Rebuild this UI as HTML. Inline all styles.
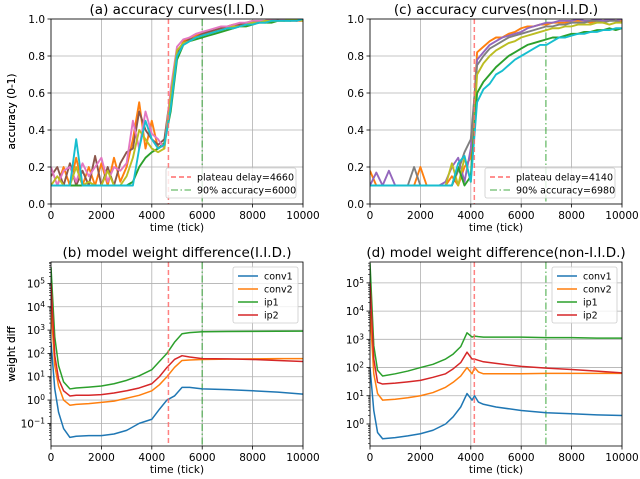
<!DOCTYPE html>
<html><head><meta charset="utf-8"><style>
html,body{margin:0;padding:0;background:#fff;}
svg{display:block;font-family:"DejaVu Sans","Liberation Sans",sans-serif;}
</style></head><body>
<svg id="fig" width="640" height="479" viewBox="0 0 640 479" xmlns="http://www.w3.org/2000/svg"></svg>
<script>
// ---------- data ----------
const accTicks = [0,250,500,750,1000,1250,1500,1750,2000,2250,2500,2750,3000,3250,3500,3750,4000,4250,4500,4750,5000,5250,5500,5750,6000,6250,6500,6750,7000,7250,7500,7750,8000,8250,8500,8750,9000,9250,9500,9750,10000];
const accIID_1 = [0.1,0.1,0.2,0.1,0.25,0.1,0.2,0.1,0.22,0.1,0.25,0.12,0.2,0.35,0.55,0.3,0.45,0.3,0.33,0.55,0.8,0.88,0.9,0.91,0.92,0.93,0.94,0.95,0.96,0.97,0.97,0.98,0.99,0.98,0.99,0.99,0.99,1.0,0.99,0.99,0.99];
const accIID_2 = [0.15,0.2,0.1,0.22,0.1,0.18,0.1,0.26,0.1,0.2,0.1,0.22,0.28,0.3,0.5,0.4,0.35,0.32,0.35,0.6,0.82,0.87,0.89,0.9,0.92,0.93,0.94,0.95,0.95,0.96,0.97,0.98,0.98,0.99,0.98,0.99,1.0,0.99,1.0,0.99,1.0];
const accIID_3 = [0.1,0.1,0.1,0.1,0.1,0.1,0.1,0.1,0.1,0.1,0.1,0.1,0.1,0.12,0.2,0.25,0.28,0.3,0.33,0.5,0.78,0.86,0.88,0.89,0.9,0.91,0.92,0.93,0.94,0.95,0.96,0.96,0.97,0.98,0.98,0.98,0.99,0.99,0.99,1.0,0.99];
const accIID_4 = [0.2,0.1,0.18,0.2,0.12,0.22,0.15,0.2,0.25,0.12,0.2,0.18,0.22,0.45,0.3,0.5,0.38,0.35,0.3,0.62,0.85,0.89,0.9,0.92,0.93,0.94,0.95,0.96,0.96,0.97,0.98,0.98,0.99,0.99,0.99,1.0,0.99,1.0,1.0,0.99,1.0];
const accIID_5 = [0.1,0.15,0.1,0.1,0.2,0.1,0.12,0.1,0.1,0.18,0.1,0.1,0.15,0.25,0.4,0.35,0.3,0.28,0.3,0.58,0.83,0.87,0.88,0.9,0.91,0.92,0.93,0.94,0.95,0.96,0.96,0.97,0.98,0.98,0.99,0.99,0.99,0.99,1.0,1.0,0.99];
const accIID_6 = [0.1,0.1,0.1,0.1,0.35,0.1,0.1,0.1,0.1,0.1,0.1,0.1,0.1,0.1,0.3,0.45,0.35,0.3,0.32,0.52,0.8,0.86,0.88,0.9,0.91,0.92,0.93,0.94,0.95,0.95,0.96,0.97,0.97,0.98,0.98,0.99,0.99,0.99,0.99,0.99,1.0];
const accNon_1 = [0.18,0.1,0.1,0.1,0.1,0.1,0.1,0.1,0.2,0.1,0.1,0.1,0.1,0.15,0.1,0.2,0.25,0.82,0.85,0.88,0.9,0.9,0.92,0.93,0.95,0.96,0.96,0.97,0.97,0.98,0.98,0.98,0.99,0.99,0.99,0.98,0.99,0.99,1.0,0.99,0.99];
const accNon_2 = [0.1,0.17,0.1,0.18,0.1,0.1,0.1,0.1,0.1,0.1,0.1,0.1,0.12,0.2,0.25,0.12,0.3,0.78,0.82,0.86,0.88,0.9,0.91,0.92,0.93,0.95,0.96,0.97,0.98,0.98,0.99,0.99,0.99,1.0,0.99,0.99,1.0,0.99,1.0,0.99,1.0];
const accNon_3 = [0.1,0.1,0.1,0.1,0.1,0.1,0.1,0.2,0.1,0.1,0.1,0.1,0.1,0.1,0.18,0.28,0.35,0.75,0.8,0.84,0.86,0.88,0.9,0.91,0.92,0.93,0.94,0.95,0.96,0.96,0.97,0.97,0.98,0.98,0.98,0.99,0.99,0.98,0.99,0.99,0.98];
const accNon_4 = [0.1,0.1,0.1,0.1,0.1,0.1,0.1,0.1,0.1,0.1,0.1,0.1,0.1,0.22,0.1,0.25,0.12,0.7,0.76,0.8,0.83,0.85,0.87,0.88,0.9,0.91,0.92,0.93,0.94,0.95,0.95,0.96,0.96,0.97,0.97,0.97,0.98,0.98,0.97,0.98,0.98];
const accNon_5 = [0.1,0.1,0.1,0.1,0.1,0.1,0.1,0.1,0.1,0.1,0.1,0.1,0.1,0.1,0.2,0.1,0.15,0.6,0.66,0.7,0.74,0.77,0.8,0.82,0.84,0.86,0.87,0.88,0.89,0.9,0.9,0.91,0.92,0.92,0.93,0.93,0.94,0.94,0.95,0.94,0.95];
const accNon_6 = [0.1,0.1,0.1,0.1,0.1,0.1,0.1,0.1,0.1,0.1,0.1,0.1,0.1,0.1,0.22,0.26,0.12,0.55,0.62,0.65,0.7,0.72,0.75,0.78,0.8,0.82,0.84,0.86,0.86,0.88,0.9,0.9,0.91,0.92,0.92,0.93,0.93,0.94,0.94,0.95,0.95];
const accIID = [accIID_1,accIID_2,accIID_3,accIID_4,accIID_5,accIID_6];
const accNon = [accNon_1,accNon_2,accNon_3,accNon_4,accNon_5,accNon_6];
const accIIDColors = ["#ff7f0e","#8c564b","#2ca02c","#e377c2","#bcbd22","#17becf"];
const accNonColors = ["#ff7f0e","#9467bd","#7f7f7f","#bcbd22","#2ca02c","#17becf"];

const layerNames = ["conv1","conv2","ip1","ip2"];
const layerColors = ["#1f77b4","#ff7f0e","#2ca02c","#d62728"];
const wIIDTicks = [0,150,300,500,750,1000,1500,2000,2500,3000,3500,4000,4300,4600,4900,5200,5500,6000,7000,8000,9000,10000];
const wIID_conv1 = [300,3,0.3,0.06,0.025,0.028,0.03,0.03,0.035,0.05,0.1,0.15,0.4,1,1.5,3.5,3.5,3,2.8,2.5,2.2,1.8];
const wIID_conv2 = [1e4,30,4,1,0.6,0.65,0.7,0.8,0.9,1.2,1.6,2.5,4.5,10,25,50,52,55,57,58,60,60];
const wIID_ip1 = [5e5,500,30,6,3,3.3,3.6,4,5,7,11,20,45,100,300,700,780,850,870,880,890,900];
const wIID_ip2 = [1e5,80,8,2.5,1.5,1.6,1.6,1.7,2,2.5,3.3,5,10,25,55,80,70,60,58,55,50,45];
const wNonTicks = [0,150,300,500,1000,1500,2000,2500,3000,3300,3600,3850,4050,4150,4300,4500,5000,6000,7000,8000,9000,10000];
const wNon_conv1 = [100,3,0.5,0.3,0.33,0.38,0.45,0.6,1,1.8,4,12,7,10,6,5,4,3,2.5,2.3,2.1,2];
const wNon_conv2 = [1e4,60,12,7,7.5,8.5,10,13,20,30,50,100,60,100,70,60,60,60,62,62,62,62];
const wNon_ip1 = [5e5,600,80,50,60,75,100,130,200,300,550,1700,1200,1300,1250,1200,1200,1200,1150,1150,1100,1100];
const wNon_ip2 = [1e5,200,30,26,28,31,35,45,60,90,150,350,200,200,180,160,140,110,95,85,75,65];
const wIID = [wIID_conv1,wIID_conv2,wIID_ip1,wIID_ip2];
const wNon = [wNon_conv1,wNon_conv2,wNon_ip1,wNon_ip2];

const xTickVals = [0,2000,4000,6000,8000,10000];
const accYTicks = [0,0.2,0.4,0.6,0.8,1.0];

// ---------- drawing ----------
const NS="http://www.w3.org/2000/svg";
const svg=document.getElementById('fig');
function el(tag,attrs,parent){const e=document.createElementNS(NS,tag);for(const k in attrs)e.setAttribute(k,attrs[k]);(parent||svg).appendChild(e);return e;}
function txt(s,attrs,parent){const t=el('text',attrs,parent);t.textContent=s;return t;}

function panel(cfg){
  const g=el('g',{});
  
  
  const X=v=>cfg.x0+(v/10000)*(cfg.x1-cfg.x0);
  const Y=cfg.log?(v=>cfg.y1-(Math.log10(v)-cfg.lo)/(cfg.hi-cfg.lo)*(cfg.y1-cfg.y0)):(v=>cfg.y1-v*(cfg.y1-cfg.y0));
  const clipId='clip'+cfg.id;
  const cp=el('clipPath',{id:clipId},g);
  el('rect',{x:cfg.x0,y:cfg.y0,width:cfg.x1-cfg.x0,height:cfg.y1-cfg.y0},cp);
  xTickVals.forEach(v=>{const l=el('line',{x1:X(v),x2:X(v),y1:cfg.y0,y2:cfg.y1,stroke:'#b0b0b0','stroke-width':0.8},g);
    });
  const yt=cfg.log?cfg.decades:accYTicks;
  yt.forEach(v=>{const yy=cfg.log?Y(Math.pow(10,v)):Y(v);const l=el('line',{x1:cfg.x0,x2:cfg.x1,y1:yy,y2:yy,stroke:'#b0b0b0','stroke-width':0.8},g);
    });
  const plot=el('g',{'clip-path':'url(#'+clipId+')'},g);
  const gl=el('line',{x1:X(cfg.acc90),x2:X(cfg.acc90),y1:cfg.y0,y2:cfg.y1,stroke:'#2ca02c','stroke-opacity':0.7,'stroke-width':1.3,'stroke-dasharray':'7,2.5,1.5,2.5'},plot);
  
  cfg.series.forEach((s,i)=>{
    const d=s.map((v,j)=>(j?'L':'M')+X(cfg.ticks[j]).toFixed(2)+','+Y(v).toFixed(2)).join('');
    const p=el('path',{d:d,fill:'none',stroke:cfg.colors[i],'stroke-width':cfg.log?1.5:1.9,'stroke-linejoin':'round'},plot);
    
    
  });
  const rl=el('line',{x1:X(cfg.plateau),x2:X(cfg.plateau),y1:cfg.y0,y2:cfg.y1,stroke:'#ff6b6b','stroke-opacity':0.85,'stroke-width':1.5,'stroke-dasharray':'5,3'},plot);
  
  const fr=el('rect',{x:cfg.x0,y:cfg.y0,width:cfg.x1-cfg.x0,height:cfg.y1-cfg.y0,fill:'none',stroke:'#000','stroke-width':0.8},g);
  
  xTickVals.forEach(v=>{el('line',{x1:X(v),x2:X(v),y1:cfg.y1,y2:cfg.y1+3.5,stroke:'#000','stroke-width':0.8},g);
    const t=txt(String(v),{x:X(v),y:cfg.y1+15,'font-size':10.5,'text-anchor':'middle',fill:'#000'},g);
    });
  const xl=txt('time (tick)',{x:(cfg.x0+cfg.x1)/2,y:cfg.y1+27,'font-size':10.5,'text-anchor':'middle'},g);
  
  if(!cfg.log){
    accYTicks.forEach(v=>{el('line',{x1:cfg.x0-3.5,x2:cfg.x0,y1:Y(v),y2:Y(v),stroke:'#000','stroke-width':0.8},g);
      const t=txt(v.toFixed(1),{x:cfg.x0-6,y:Y(v)+4,'font-size':10.5,'text-anchor':'end'},g);
      });
  } else {
    for(let d=Math.floor(cfg.lo);d<=Math.ceil(cfg.hi);d++){
      for(let m=1;m<10;m++){const v=m*Math.pow(10,d);const lv=Math.log10(v);if(lv<cfg.lo||lv>cfg.hi)continue;
        el('line',{x1:cfg.x0-(m===1?3.5:2),x2:cfg.x0,y1:Y(v),y2:Y(v),stroke:'#000','stroke-width':m===1?0.8:0.6},g);}
    }
    cfg.decades.forEach(d=>{const yy=Y(Math.pow(10,d));
      const t=el('text',{x:cfg.x0-6,y:yy+4,'font-size':10.5,'text-anchor':'end'},g);
      
      const a=document.createElementNS(NS,'tspan');a.textContent='10';t.appendChild(a);
      const b=document.createElementNS(NS,'tspan');b.setAttribute('dy','-4');b.setAttribute('font-size','7.5');b.textContent=d<0?'\u2212'+(-d):String(d);t.appendChild(b);
    });
  }
  const yl=txt(cfg.ylabel,{x:0,y:0,'font-size':10.5,'text-anchor':'middle',transform:'translate(15,'+((cfg.y0+cfg.y1)/2)+') rotate(-90)'},g);
  
  const tt=txt(cfg.title,{x:(cfg.x0+cfg.x1)/2,y:cfg.y0-5,'font-size':13.5,'text-anchor':'middle'},g);
  
  const lg=el('g',{},g);
  
  if(!cfg.log){
    const lx=cfg.x1-137,ly=cfg.y1-36;
    el('rect',{x:lx,y:ly,width:130,height:30,rx:2,fill:'#fff','fill-opacity':0.8,stroke:'#ccc','stroke-width':0.8},lg);
    el('line',{x1:lx+5,x2:lx+25,y1:ly+9,y2:ly+9,stroke:'#ff6b6b','stroke-width':1.5,'stroke-dasharray':'5,3'},lg);
    const a=txt('plateau delay='+cfg.plateau,{x:lx+31,y:ly+12.5,'font-size':9.5},lg);
    
    el('line',{x1:lx+5,x2:lx+25,y1:ly+22,y2:ly+22,stroke:'#2ca02c','stroke-opacity':0.7,'stroke-width':1.3,'stroke-dasharray':'7,2.5,1.5,2.5'},lg);
    const b=txt('90% accuracy='+cfg.acc90,{x:lx+31,y:ly+25.5,'font-size':9.5},lg);
    
  } else {
    const lx=cfg.x1-70,ly=cfg.y0+5;
    el('rect',{x:lx,y:ly,width:65,height:56,rx:2,fill:'#fff','fill-opacity':0.8,stroke:'#ccc','stroke-width':0.8},lg);
    layerNames.forEach((n,i)=>{el('line',{x1:lx+5,x2:lx+25,y1:ly+9+i*13,y2:ly+9+i*13,stroke:layerColors[i],'stroke-width':1.5},lg);
      const t=txt(n,{x:lx+31,y:ly+12.5+i*13,'font-size':9.5},lg);
      });
  }
}

panel({id:'a',name:'accuracy-iid-panel',x0:51,x1:303,y0:19,y1:204,log:false,ticks:accTicks,series:accIID,colors:accIIDColors,plateau:4660,acc90:6000,ylabel:'accuracy (0-1)',title:'(a) accuracy curves(I.I.D.)'});
panel({id:'c',name:'accuracy-noniid-panel',x0:370,x1:622,y0:19,y1:204,log:false,ticks:accTicks,series:accNon,colors:accNonColors,plateau:4140,acc90:6980,ylabel:'accuracy (0-1)',title:'(c) accuracy curves(non-I.I.D.)'});
panel({id:'b',name:'weight-diff-iid-panel',x0:51,x1:303,y0:262,y1:446,log:true,lo:-1.97,hi:5.92,decades:[-1,0,1,2,3,4,5],ticks:wIIDTicks,series:wIID,colors:layerColors,plateau:4660,acc90:6000,ylabel:'weight diff',title:'(b) model weight difference(I.I.D.)'});
panel({id:'d',name:'weight-diff-noniid-panel',x0:370,x1:622,y0:262,y1:446,log:true,lo:-0.78,hi:5.74,decades:[0,1,2,3,4,5],ticks:wNonTicks,series:wNon,colors:layerColors,plateau:4140,acc90:6980,ylabel:'weight diff',title:'(d) model weight difference(non-I.I.D.)'});
</script>
</body></html>
